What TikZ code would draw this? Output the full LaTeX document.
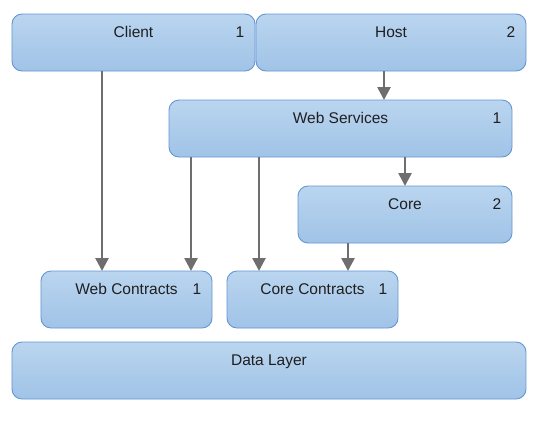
\documentclass[tikz,border=0pt]{standalone}
\usepackage{fontspec}
\setmainfont{Liberation Sans}
\usepackage{xcolor}
\usetikzlibrary{arrows.meta}

\definecolor{boxtop}{HTML}{BAD5EF}
\definecolor{boxbot}{HTML}{A0C3E7}
\definecolor{boxline}{HTML}{6496D2}
\definecolor{linkgray}{HTML}{6E6E6E}

\tikzset{
    box/.style={draw=boxline, line width=0.9bp, rounded corners=10bp,
        top color=boxtop, bottom color=boxbot, minimum height=57bp,
        inner sep=0pt, outer sep=0pt},
    title/.style={anchor=base, inner sep=0pt, text=black!88,
        font=\fontsize{15.5bp}{18bp}\selectfont},
    link/.style={draw=linkgray, line width=2.6bp,
        -{Triangle[length=13bp,width=13bp]}}
}

\begin{document}
\begin{tikzpicture}[x=1bp,y=-1bp]
    \useasboundingbox (0,0) rectangle (543,422);
% Blocks
    \node[box, minimum width=243bp] (client) at (133.5,42.5) {};
    \node[box, minimum width=270bp] (host) at (391,42.5) {};
    \node[box, minimum width=343bp] (websvc) at (340.5,128.5) {};
    \node[box, minimum width=214bp] (core) at (405,214.5) {};
    \node[box, minimum width=171bp] (webcon) at (126.5,299.5) {};
    \node[box, minimum width=171bp] (corecon) at (312.5,299.5) {};
    \node[box, minimum width=514bp] (data) at (269,370.5) {};
% Titles and counts
    \foreach \n/\t/\k in {client/Client/1, host/Host/2, websvc/Web Services/1,
        core/Core/2, webcon/Web Contracts/1, corecon/Core Contracts/1} {
        \node[title] (\n-t) at ([yshift=-23bp]\n.north) {\t};
        \node[title] (\n-k) at ([xshift=-15bp,yshift=-23bp]\n.north east) {\k};
    }
    \node[title] (data-t) at ([yshift=-23bp]data.north) {Data Layer};
% Dependencies
    \foreach \src/\dst/\x in {client/webcon/102, host/websvc/384,
        websvc/webcon/191, websvc/corecon/259, websvc/core/405, core/corecon/348} {
        \coordinate (col) at (\x,0);
        \draw[link] (\src.south -| col) -- (\dst.north -| col);
    }
\end{tikzpicture}
\end{document}
